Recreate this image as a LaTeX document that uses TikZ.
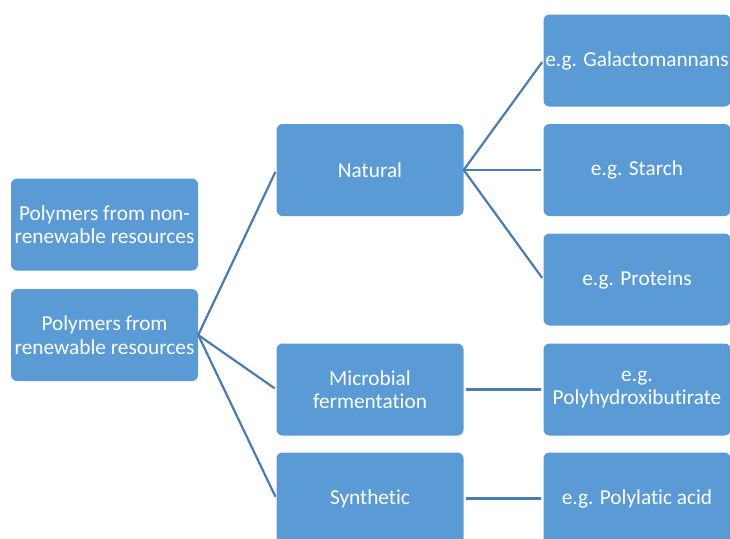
\documentclass[tikz,border=0pt]{standalone}
\usepackage{fontspec}
\setmainfont{Carlito}[Ligatures=NoCommon]
\usepackage{xcolor}
\usetikzlibrary{calc}
\definecolor{boxblue}{HTML}{5B9BD5}
\definecolor{linkblue}{HTML}{4A7CB0}
\tikzset{
	box/.style={
			rectangle, rounded corners=6pt, fill=boxblue, text=white,
			minimum width=187pt, minimum height=92pt, inner sep=1pt,
			align=center, font=\fontsize{21.3}{23.5}\selectfont
		},
	link/.style={linkblue, line width=2.2pt, shorten >=2pt}
}

\begin{document}
\begin{tikzpicture}[x=1pt, y=-1pt]
		\clip (0, 0) rectangle (730, 538);
		\fill[white] (0, 0) rectangle (730, 538);

		\node[box] (nonrenew) at (104.5, 224.5) {Polymers from non-\\renewable resources};
		\node[box] (renew) at (104.5, 335) {Polymers from\\renewable resources};

		\node[box] (natural) at (370, 170) {Natural};
		\node[box] (microbial) at (370, 389.5) {Microbial\\fermentation};
		\node[box] (synthetic) at (370, 498.5) {Synthetic};

		\node[box] (galacto) at (637, 60.5) {e.g. Galactomannans};
		\node[box] (starch) at (637, 170) {e.g. Starch};
		\node[box] (proteins) at (637, 279.5) {e.g. Proteins};
		\node[box] (phb) at (637, 389.5) {e.g.\\Polyhydroxibutirate};
		\node[box] (pla) at (637, 498.5) {e.g. Polylatic acid};

		\draw[link] (renew.east) to (natural.west);
		\draw[link] (renew.east) to (microbial.west);
		\draw[link] (renew.east) to (synthetic.west);

		\draw[link] (natural.east) to (galacto.west);
		\draw[link] (natural.east) to (starch.west);
		\draw[link] (natural.east) to (proteins.west);

		\draw[link, shorten <=2pt] (microbial.east) to (phb.west);
		\draw[link, shorten <=2pt] (synthetic.east) to (pla.west);
	\end{tikzpicture}
\end{document}
